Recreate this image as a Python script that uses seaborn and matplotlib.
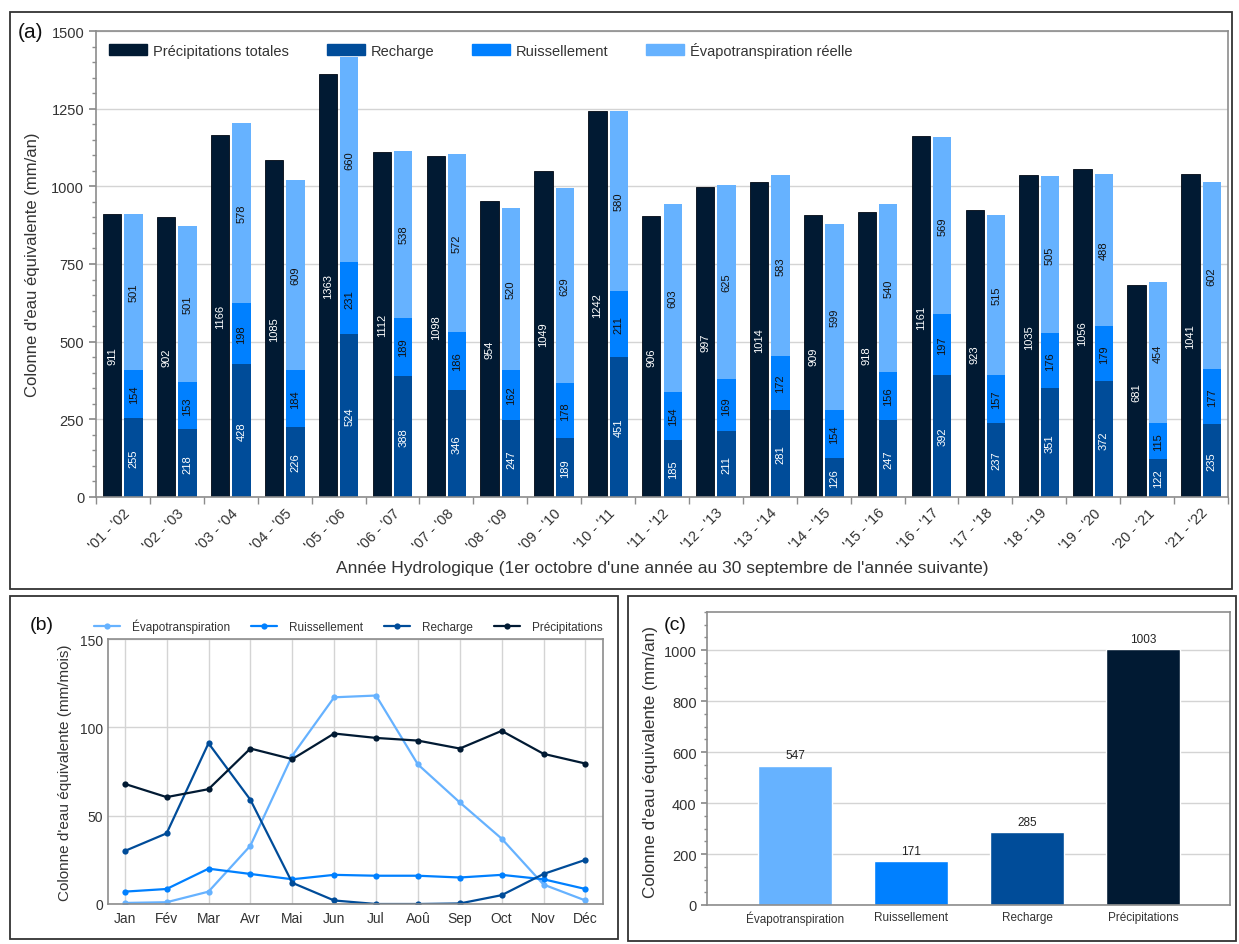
import numpy as np
import pandas as pd
import matplotlib
matplotlib.use("Agg")
import matplotlib.pyplot as plt
import seaborn as sns
from matplotlib.patches import Patch, Rectangle
from matplotlib.ticker import MultipleLocator, FixedLocator

# --- data ---------------------------------------------------------------
annees = ["'01 - '02", "'02 - '03", "'03 - '04", "'04 - '05", "'05 - '06",
          "'06 - '07", "'07 - '08", "'08 - '09", "'09 - '10", "'10 - '11",
          "'11 - '12", "'12 - '13", "'13 - '14", "'14 - '15", "'15 - '16",
          "'16 - '17", "'17 - '18", "'18 - '19", "'19 - '20", "'20 - '21",
          "'21 - '22"]
precip_an = [911, 902, 1166, 1085, 1363, 1112, 1098, 954, 1049, 1242, 906,
             997, 1014, 909, 918, 1161, 923, 1035, 1056, 681, 1041]
recharge_an = [255, 218, 428, 226, 524, 388, 346, 247, 189, 451, 185,
               211, 281, 126, 247, 392, 237, 351, 372, 122, 235]
ruiss_an = [154, 153, 198, 184, 231, 189, 186, 162, 178, 211, 154,
            169, 172, 154, 156, 197, 157, 176, 179, 115, 177]
etr_an = [501, 501, 578, 609, 660, 538, 572, 520, 629, 580, 603,
          625, 583, 599, 540, 569, 515, 505, 488, 454, 602]

mois = ["Jan", "Fév", "Mar", "Avr", "Mai", "Jun", "Jul", "Aoû", "Sep", "Oct", "Nov", "Déc"]
etr_mois = [0.6, 1, 7, 33, 84, 117, 118, 79, 57.5, 37, 11, 2]
ruiss_mois = [7, 8.5, 20, 17, 14, 16.5, 16, 16, 15, 16.5, 14, 8.5]
recharge_mois = [30, 40, 91, 59, 12, 2, 0, 0, 0.3, 5, 17, 25]
precip_mois = [68, 60.5, 65, 88, 82, 96.5, 94, 92.5, 88, 98, 85, 79.5]

bilan_noms = ["Évapotranspiration", "Ruissellement", "Recharge", "Précipitations"]
bilan_vals = [547, 171, 285, 1003]

c_precip = "#011a33"
c_rech = "#004c99"
c_ruis = "#0080ff"
c_etr = "#66b2ff"
txt = "#333333"

sns.set_theme(style="white")
plt.rcParams["font.family"] = ["Liberation Sans", "DejaVu Sans"]
plt.rcParams["text.color"] = txt
plt.rcParams["axes.labelcolor"] = txt
plt.rcParams["xtick.color"] = txt
plt.rcParams["ytick.color"] = txt

fig = plt.figure(figsize=(12.39, 9.45), dpi=100)
W, H = 1239, 945


def fig_rect(x0, y0, x1, y1):
    return [x0 / W, 1 - y1 / H, (x1 - x0) / W, (y1 - y0) / H]


def style_axes(ax):
    for s in ax.spines.values():
        s.set_color("#8c8c8c")
        s.set_linewidth(1.2)
    ax.set_axisbelow(True)


# panel frames
for (x0, y0, x1, y1) in [(10, 13, 1232, 590), (10, 597, 618, 940), (628, 597, 1236, 942)]:
    fig.patches.append(Rectangle((x0 / W, 1 - y1 / H), (x1 - x0) / W, (y1 - y0) / H,
                                 transform=fig.transFigure, fill=False,
                                 edgecolor="#333333", linewidth=1.3))

# --- (a) ----------------------------------------------------------------
ax = fig.add_axes(fig_rect(96, 32, 1228, 498))
style_axes(ax)
pos = np.arange(len(annees))
bw = 0.34
xp = pos - 0.028 - bw / 2
xs = pos + 0.028 + bw / 2
rech = np.array(recharge_an)
ruis = np.array(ruiss_an)
etr = np.array(etr_an)
ax.bar(xp, precip_an, bw, color=c_precip, edgecolor="#000814", linewidth=0.6)
ax.bar(xs, rech, bw, color=c_rech, edgecolor="none")
ax.bar(xs, ruis, bw, bottom=rech, color=c_ruis, edgecolor="none")
ax.bar(xs, etr, bw, bottom=rech + ruis, color=c_etr, edgecolor="none")

for i in range(len(annees)):
    ax.text(xp[i], precip_an[i] / 2, str(precip_an[i]), rotation=90, ha="center",
            va="center", fontsize=8, color="white")
    ax.text(xs[i], rech[i] / 2, str(rech[i]), rotation=90, ha="center",
            va="center", fontsize=8, color="white")
    ax.text(xs[i], rech[i] + ruis[i] / 2, str(ruis[i]), rotation=90, ha="center",
            va="center", fontsize=8, color="#111111")
    ax.text(xs[i], rech[i] + ruis[i] + etr[i] / 2, str(etr[i]), rotation=90,
            ha="center", va="center", fontsize=8, color="#111111")

ax.set_xlim(-0.5, len(annees) - 0.5)
ax.set_ylim(0, 1500)
ax.yaxis.set_major_locator(MultipleLocator(250))
ax.yaxis.set_minor_locator(MultipleLocator(50))
ax.grid(axis="y", color="#d4d4d4", linewidth=1)
ax.set_xticks(pos)
ax.set_xticklabels(annees, rotation=45, ha="right", rotation_mode="anchor", fontsize=10.5)
ax.xaxis.set_minor_locator(FixedLocator(np.arange(-0.5, len(annees), 1.0)))
ax.tick_params(axis="x", which="major", length=0, pad=6)
ax.tick_params(axis="x", which="minor", length=5, color="#8c8c8c", bottom=True)
ax.tick_params(axis="y", which="major", length=5, color="#8c8c8c", left=True, labelsize=10.5)
ax.tick_params(axis="y", which="minor", length=3, color="#8c8c8c", left=True)
ax.set_ylabel("Colonne d'eau équivalente (mm/an)", fontsize=12, labelpad=8)
ax.set_xlabel("Année Hydrologique (1er octobre d'une année au 30 septembre de l'année suivante)",
              fontsize=12.5, labelpad=6)
handles = [Patch(color=c_precip), Patch(color=c_rech), Patch(color=c_ruis), Patch(color=c_etr)]
ax.legend(handles, ["Précipitations totales", "Recharge", "Ruissellement", "Évapotranspiration réelle"],
          ncol=4, loc="upper left", bbox_to_anchor=(0.0, 1.005), frameon=False, fontsize=10.5,
          handlelength=2.6, handleheight=0.8, handletextpad=0.4, columnspacing=2.6)
fig.text(18 / W, 1 - 33 / H, "(a)", fontsize=15, va="center", ha="left", color="#111111")

# --- (b) ----------------------------------------------------------------
axb = fig.add_axes(fig_rect(108, 640, 603, 905))
style_axes(axb)
df_mois = pd.DataFrame({
    "mois": list(range(12)) * 4,
    "valeur": etr_mois + ruiss_mois + recharge_mois + precip_mois,
    "serie": (["Évapotranspiration"] * 12 + ["Ruissellement"] * 12
              + ["Recharge"] * 12 + ["Précipitations"] * 12),
})
sns.lineplot(data=df_mois, x="mois", y="valeur", hue="serie",
             palette=[c_etr, c_ruis, c_rech, c_precip], marker="o", markersize=4.5,
             markeredgewidth=0, linewidth=1.6, ax=axb)
axb.set_xlim(-0.4, 11.42)
axb.set_ylim(0, 150)
axb.set_xticks(range(12))
axb.set_xticklabels(mois, fontsize=10)
axb.set_yticks([0, 50, 100, 150])
axb.tick_params(axis="y", labelsize=10, length=0)
axb.tick_params(axis="x", length=0, pad=5)
axb.grid(True, color="#d4d4d4", linewidth=1)
axb.set_xlabel("")
axb.set_ylabel("Colonne d'eau équivalente (mm/mois)", fontsize=11, labelpad=6)
axb.legend(loc="lower left", bbox_to_anchor=(-0.04, 1.0), ncol=4, frameon=False,
           fontsize=8.5, handlelength=2.2, handletextpad=1.0, columnspacing=1.8,
           borderaxespad=0.1)
fig.text(30 / W, 1 - 625 / H, "(b)", fontsize=14, va="center", ha="left", color="#111111")

# --- (c) ----------------------------------------------------------------
axc = fig.add_axes(fig_rect(707, 613, 1230, 906))
style_axes(axc)
df_bilan = pd.DataFrame({"composante": bilan_noms, "valeur": bilan_vals})
sns.barplot(data=df_bilan, x="composante", y="valeur", hue="composante",
            palette=[c_etr, c_ruis, c_rech, c_precip], width=0.64, legend=False,
            saturation=1, ax=axc)
for cont in axc.containers:
    axc.bar_label(cont, fmt="%d", padding=3, fontsize=8.5, color="#222222")
axc.set_xlim(-0.76, 3.75)
axc.set_ylim(0, 1150)
axc.yaxis.set_major_locator(MultipleLocator(200))
axc.yaxis.set_minor_locator(MultipleLocator(50))
axc.grid(axis="y", color="#d4d4d4", linewidth=1)
axc.tick_params(axis="x", labelsize=8.5, length=0, pad=4)
axc.tick_params(axis="y", which="major", labelsize=10.5, length=4, color="#8c8c8c", left=True)
axc.tick_params(axis="y", which="minor", length=2, color="#8c8c8c", left=True)
axc.set_xlabel("")
axc.set_ylabel("Colonne d'eau équivalente (mm/an)", fontsize=12.3, labelpad=5)
axc.yaxis.set_label_coords(-0.093, 0.49)
fig.text(664 / W, 1 - 626 / H, "(c)", fontsize=14, va="center", ha="left", color="#111111")

fig.savefig("out.png", dpi=100)
